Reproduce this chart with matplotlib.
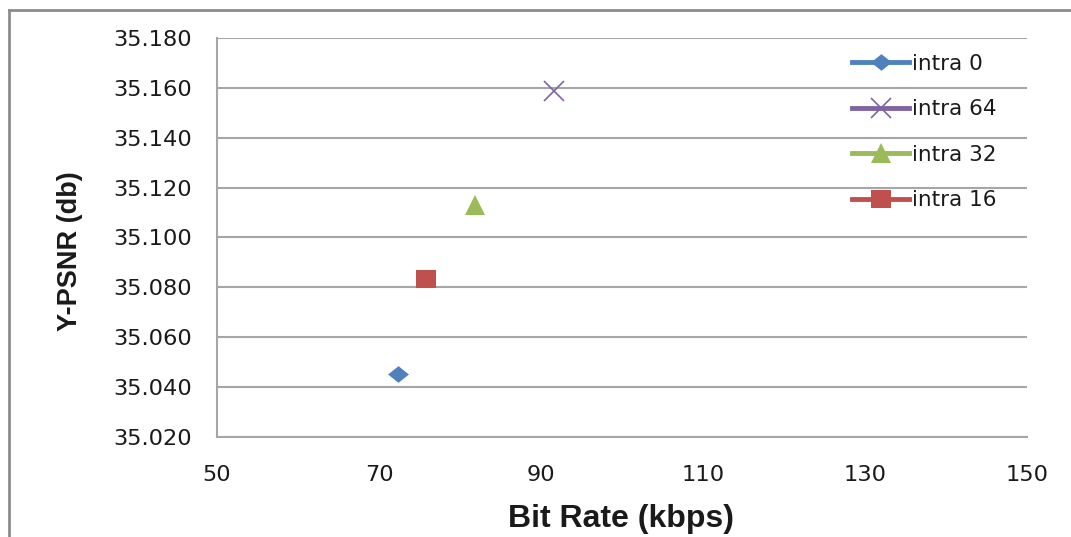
import numpy as np
import matplotlib
matplotlib.use("Agg")
import matplotlib.pyplot as plt
from matplotlib.lines import Line2D
from matplotlib.path import Path

# bit rate (kbps) and Y-PSNR (db) for each intra period
series = ["intra 0", "intra 64", "intra 32", "intra 16"]
bitrate = [72.3, 91.6, 81.8, 75.8]
psnr = [35.0453, 35.1589, 35.1130, 35.0832]
colors = ["#4F81BD", "#8064A2", "#9BBB59", "#C0504D"]

xticks = [50, 70, 90, 110, 130, 150]
yticks = [35.020, 35.040, 35.060, 35.080, 35.100, 35.120, 35.140, 35.160, 35.180]

# excel style markers are a bit wider than tall
diamond = Path([(-1, 0), (0, 0.8), (1, 0), (0, -0.8), (-1, 0)],
               [Path.MOVETO, Path.LINETO, Path.LINETO, Path.LINETO, Path.CLOSEPOLY])
square = Path([(-1, -0.85), (1, -0.85), (1, 0.85), (-1, 0.85), (-1, -0.85)],
              [Path.MOVETO, Path.LINETO, Path.LINETO, Path.LINETO, Path.CLOSEPOLY])
markers = [diamond, "x", "^", square]
msizes = [15, 14, 14, 15]

W, H = 1071, 537
fig = plt.figure(figsize=(W / 100, H / 100), dpi=100)
ax = fig.add_axes([217 / W, 1 - 437 / H, 810 / W, 399 / H])

handles = []
for name, x, y, c, m, ms in zip(series, bitrate, psnr, colors, markers, msizes):
    ax.plot([x], [y], linestyle="none", marker=m, markersize=ms, color=c,
            markeredgewidth=1.2 if m == "x" else 0, zorder=3)
    handles.append(Line2D([], [], color=c, linewidth=3.5, marker=m,
                          markersize=ms, markeredgewidth=1.2 if m == "x" else 0,
                          label=name))

ax.set_xlim(50, 150)
ax.set_ylim(35.020, 35.180)
ax.set_xticks(xticks)
ax.set_yticks(yticks)
ax.set_xticklabels([str(v) for v in xticks])
ax.set_yticklabels(["%.3f" % v for v in yticks])
ax.tick_params(length=0, labelsize=16.2, colors="#1a1a1a")
ax.tick_params(axis="y", pad=18)
ax.tick_params(axis="x", pad=20)
ax.grid(axis="y", color="#a6a6a6", linewidth=1.5)
ax.set_axisbelow(True)
for s in ["top", "right"]:
    ax.spines[s].set_visible(False)
for s in ["left", "bottom"]:
    ax.spines[s].set_color("#a6a6a6")
    ax.spines[s].set_linewidth(1.5)

fig.text(621 / W, 1 - 519 / H, "Bit Rate (kbps)", ha="center", va="center",
         fontsize=23, fontweight="bold", family="Liberation Sans", color="#1a1a1a")
fig.text(70 / W, 1 - 251 / H, "Y-PSNR (db)", ha="center", va="center",
         rotation=90, fontsize=19.5, fontweight="bold", family="Liberation Sans",
         color="#1a1a1a")

leg = ax.legend(handles=handles, loc="upper left", bbox_to_anchor=(852 / W, 1 - 54 / H),
                bbox_transform=fig.transFigure, frameon=False, fontsize=15.5,
                handlelength=2.65, handletextpad=0.15, labelspacing=1.18,
                borderpad=0, borderaxespad=0)
for t in leg.get_texts():
    t.set_color("#1a1a1a")

# outer chart border (top and left edges)
fig.add_artist(Line2D([9 / W, 1], [1 - 10 / H, 1 - 10 / H], color="#8c8c8c", linewidth=2))
fig.add_artist(Line2D([9 / W, 9 / W], [0, 1 - 10 / H], color="#8c8c8c", linewidth=2))

fig.savefig("out.png", dpi=100)
